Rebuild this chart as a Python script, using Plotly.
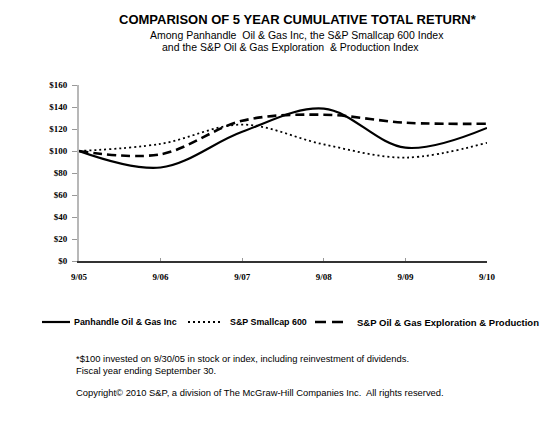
import plotly.graph_objects as go

years = ["9/05", "9/06", "9/07", "9/08", "9/09", "9/10"]
panhandle = [100, 85, 117.5, 138.5, 103, 121]
smallcap = [100, 106.5, 124, 106, 94, 107.5]
oil_gas_ep = [100, 97, 127.5, 133, 125.7, 124.8]
y_ticks = [0, 20, 40, 60, 80, 100, 120, 140, 160]
y_ticklabels = ["$" + str(v) for v in y_ticks]
series_names = ["Panhandle Oil & Gas Inc", "S&P Smallcap 600",
                "S&P Oil & Gas Exploration & Production"]

xpos = list(range(len(years)))

# page is offset by the default 8px body margin
W, H = 547, 424
PL, PR, PT, PB = 79, 487, 85, 261  # plot area in page pixels


def px(x):
    return (x - PL) / (PR - PL)


def py(y):
    return (PB - y) / (PB - PT)


styles = [
    dict(color="black", width=2.2),
    dict(color="black", width=1.8, dash="2px,3px"),
    dict(color="black", width=2.6, dash="9px,5px"),
]
data = [panhandle, smallcap, oil_gas_ep]

fig = go.Figure()
for name, vals, st in zip(series_names, data, styles):
    fig.add_trace(go.Scatter(x=xpos, y=vals, mode="lines", name=name,
                             line=dict(shape="spline", smoothing=1.0, **st)))

fig.update_layout(
    width=W, height=H,
    margin=dict(l=PL - 8, r=W - (PR - 8), t=PT - 8, b=H - (PB - 8), pad=0),
    paper_bgcolor="white", plot_bgcolor="white",
    showlegend=False,
    xaxis=dict(range=[0, 5], tickmode="array", tickvals=xpos, ticktext=years,
               showgrid=False, zeroline=False, showline=True, linecolor="#333333", linewidth=1.5,
               ticks="inside", ticklen=3, tickcolor="#999999", ticklabelstandoff=6,
               tickfont=dict(family="Liberation Serif", size=9, color="black", weight="bold"),
               fixedrange=True),
    yaxis=dict(range=[0, 160], tickmode="array", tickvals=y_ticks, ticktext=y_ticklabels,
               showgrid=False, zeroline=False, showline=True, linecolor="#b8b8b8", linewidth=2,
               ticks="outside", ticklen=5, tickcolor="#999999", ticklabelstandoff=3,
               tickfont=dict(family="Liberation Serif", size=9, color="black", weight="bold"),
               fixedrange=True),
)

anns = [
    ("<b>COMPARISON OF 5 YEAR CUMULATIVE TOTAL RETURN*</b>", 298, 19, 13),
    ("Among Panhandle  Oil & Gas Inc, the S&P Smallcap 600 Index", 297, 35, 10.5),
    ("and the S&P Oil & Gas Exploration  & Production Index", 290, 47, 10.5),
]
for t, x, y, s in anns:
    fig.add_annotation(text=t, xref="paper", yref="paper", x=px(x), y=py(y),
                       xanchor="center", yanchor="middle", showarrow=False,
                       font=dict(family="Liberation Sans", size=s, color="black"))

foot = [
    ("*$100 invested on 9/30/05 in stock or index, including reinvestment of dividends.", 358),
    ("Fiscal year ending September 30.", 370),
    ("Copyright\u00a9 2010 S&P, a division of The McGraw-Hill Companies Inc.  All rights reserved.", 392),
]
for t, yy in foot:
    fig.add_annotation(text=t, xref="paper", yref="paper", x=px(74), y=py(yy),
                       xanchor="left", yanchor="middle", showarrow=False,
                       font=dict(family="Liberation Sans", size=9.4, color="black"))

# legend drawn manually in one row
leg_y = 322
leg_items = [(42, 70, 72), (188, 220, 228), (315, 343, 355)]
leg_dash = ["solid", "2px,3px", "11px,6px"]
leg_size = [8.9, 8.9, 9.5]
for (x0, x1, tx), name, st, dsh, fs in zip(leg_items, series_names, styles, leg_dash, leg_size):
    fig.add_shape(type="line", xref="paper", yref="paper",
                  x0=px(x0), x1=px(x1), y0=py(leg_y), y1=py(leg_y),
                  line=dict(color=st["color"], width=st["width"], dash=dsh))
    fig.add_annotation(text="<b>" + name.replace("&", "&amp;") + "</b>", xref="paper", yref="paper",
                       x=px(tx), y=py(leg_y), xanchor="left", yanchor="middle", showarrow=False,
                       font=dict(family="Liberation Sans", size=fs, color="black"))

fig.write_html("out.html")
